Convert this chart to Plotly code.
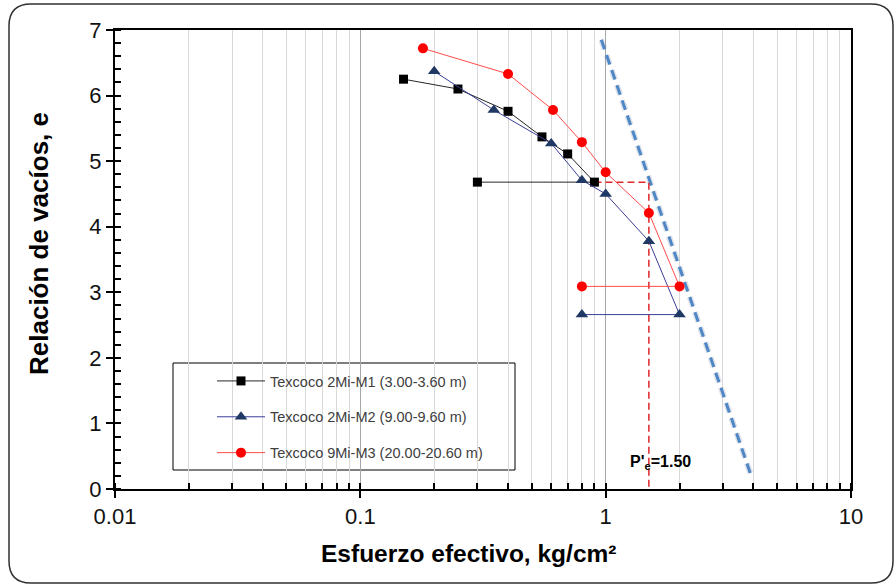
import plotly.graph_objects as go

# ---- data ----
m1_x = [0.15, 0.25, 0.40, 0.55, 0.70, 0.90, 0.30]
m1_e = [6.25, 6.10, 5.76, 5.37, 5.11, 4.68, 4.68]
m2_x = [0.20, 0.35, 0.60, 0.80, 1.00, 1.50, 2.00, 0.80]
m2_e = [6.37, 5.78, 5.27, 4.71, 4.50, 3.78, 2.66, 2.66]
m3_x = [0.18, 0.40, 0.61, 0.80, 1.00, 1.50, 2.00, 0.80]
m3_e = [6.72, 6.33, 5.78, 5.29, 4.83, 4.21, 3.09, 3.09]
names = ["Texcoco 2Mi-M1 (3.00-3.60 m)",
         "Texcoco 2Mi-M2 (9.00-9.60 m)",
         "Texcoco 9Mi-M3 (20.00-20.60 m)"]
vc_x = [0.96, 3.92]      # virgin compression tangent
vc_e = [6.85, 0.20]
pe = 1.50
pe_from_x = 0.90
pe_e = 4.68
x_ticks = [0.01, 0.1, 1, 10]
x_ticktext = ["0.01", "0.1", "1", "10"]
x_title = "Esfuerzo efectivo, kg/cm²"
y_title = "Relación de vacíos, e"

W, H = 894, 586
L, R, T, B = 115, 43, 30, 97
pw, ph = W - L - R, H - T - B

def xp(px):
    return (px - L) / pw

def yp(py):
    return (H - B - py) / ph

fig = go.Figure()

# tangent line halo + line
fig.add_trace(go.Scatter(x=vc_x, y=vc_e, mode="lines", showlegend=False, hoverinfo="skip",
                         line=dict(color="rgba(110,130,160,0.22)", width=6, dash="10px,6px")))
fig.add_trace(go.Scatter(x=vc_x, y=vc_e, mode="lines", showlegend=False, hoverinfo="skip",
                         line=dict(color="#4f86c6", width=3, dash="10px,6px")))
# preconsolidation construction
fig.add_trace(go.Scatter(x=[pe_from_x, pe, pe], y=[pe_e, pe_e, 0], mode="lines", showlegend=False,
                         hoverinfo="skip", line=dict(color="#e0262b", width=1.5, dash="7px,4px")))

fig.add_trace(go.Scatter(x=m1_x, y=m1_e, mode="lines+markers", name=names[0], legendgroup="a",
                         line=dict(color="#262626", width=1),
                         marker=dict(symbol="square", size=9, color="black")))
fig.add_trace(go.Scatter(x=m2_x, y=m2_e, mode="lines+markers", name=names[1], legendgroup="b",
                         line=dict(color="#3b3f96", width=1),
                         marker=dict(symbol="triangle-up", size=11, color="#1f3864")))
fig.add_trace(go.Scatter(x=m3_x, y=m3_e, mode="lines+markers", name=names[2], legendgroup="c",
                         line=dict(color="#ff4a4a", width=1),
                         marker=dict(symbol="circle", size=10, color="#ff0000")))

r = 22
x0, x1, y0, y1 = 9, 893, 4, 583
path = (f"M{xp(x0+r)},{yp(y0)} L{xp(x1-r)},{yp(y0)} Q{xp(x1)},{yp(y0)} {xp(x1)},{yp(y0+r)} "
        f"L{xp(x1)},{yp(y1-r)} Q{xp(x1)},{yp(y1)} {xp(x1-r)},{yp(y1)} "
        f"L{xp(x0+r)},{yp(y1)} Q{xp(x0)},{yp(y1)} {xp(x0)},{yp(y1-r)} "
        f"L{xp(x0)},{yp(y0+r)} Q{xp(x0)},{yp(y0)} {xp(x0+r)},{yp(y0)} Z")

shapes = [
    dict(type="path", xref="paper", yref="paper", path=path, line=dict(color="#303030", width=1.5)),
    dict(type="rect", xref="paper", yref="paper", x0=xp(173), x1=xp(515), y0=yp(470), y1=yp(363),
         fillcolor="white", line=dict(color="black", width=1), layer="between"),
]

tick_font = dict(family="Liberation Sans, Arial", size=22, color="#111111")
fig.update_layout(
    width=W, height=H, margin=dict(l=L, r=R, t=T, b=B),
    paper_bgcolor="white", plot_bgcolor="white",
    shapes=shapes,
    showlegend=True,
    legend=dict(x=xp(212), y=yp(365), xanchor="left", yanchor="top", bgcolor="rgba(0,0,0,0)",
                borderwidth=0, font=dict(family="Liberation Sans, Arial", size=14.5, color="#404040"),
                tracegroupgap=14, itemwidth=48),
    xaxis=dict(type="log", range=[-2, 1], tickvals=x_ticks, ticktext=x_ticktext,
               ticks="outside", ticklen=7, tickcolor="black", tickwidth=1.5,
               showline=True, linecolor="black", linewidth=2, mirror=True,
               showgrid=True, gridcolor="#a6a6a6", gridwidth=1,
               minor=dict(dtick="D1", ticks="inside", ticklen=6, tickcolor="black",
                          showgrid=True, gridcolor="#d9d9d9", gridwidth=1),
               tickfont=tick_font, zeroline=False),
    yaxis=dict(range=[0, 7], dtick=1, ticks="outside", ticklen=7, tickcolor="black", tickwidth=1.5,
               showline=True, linecolor="black", linewidth=2, mirror=True,
               showgrid=False, zeroline=False,
               minor=dict(dtick=0.2, ticks="inside", ticklen=6, tickcolor="black", showgrid=False),
               tickfont=tick_font),
    annotations=[
        dict(x=xp(660), y=yp(462), xref="paper", yref="paper", showarrow=False,
             xanchor="center", yanchor="middle", text="<b>P'<sub>e</sub>=1.50</b>",
             font=dict(family="Liberation Sans, Arial", size=16, color="black")),
        dict(x=xp(468), y=yp(553), xref="paper", yref="paper", showarrow=False,
             xanchor="center", yanchor="middle", text=f"<b>{x_title}</b>",
             font=dict(family="Liberation Sans, Arial", size=24.5, color="black")),
        dict(x=xp(39), y=yp(244), xref="paper", yref="paper", showarrow=False, textangle=-90,
             xanchor="center", yanchor="middle", text=f"<b>{y_title}</b>",
             font=dict(family="Liberation Sans, Arial", size=26, color="black")),
    ],
)

fig.write_html("out.html")
